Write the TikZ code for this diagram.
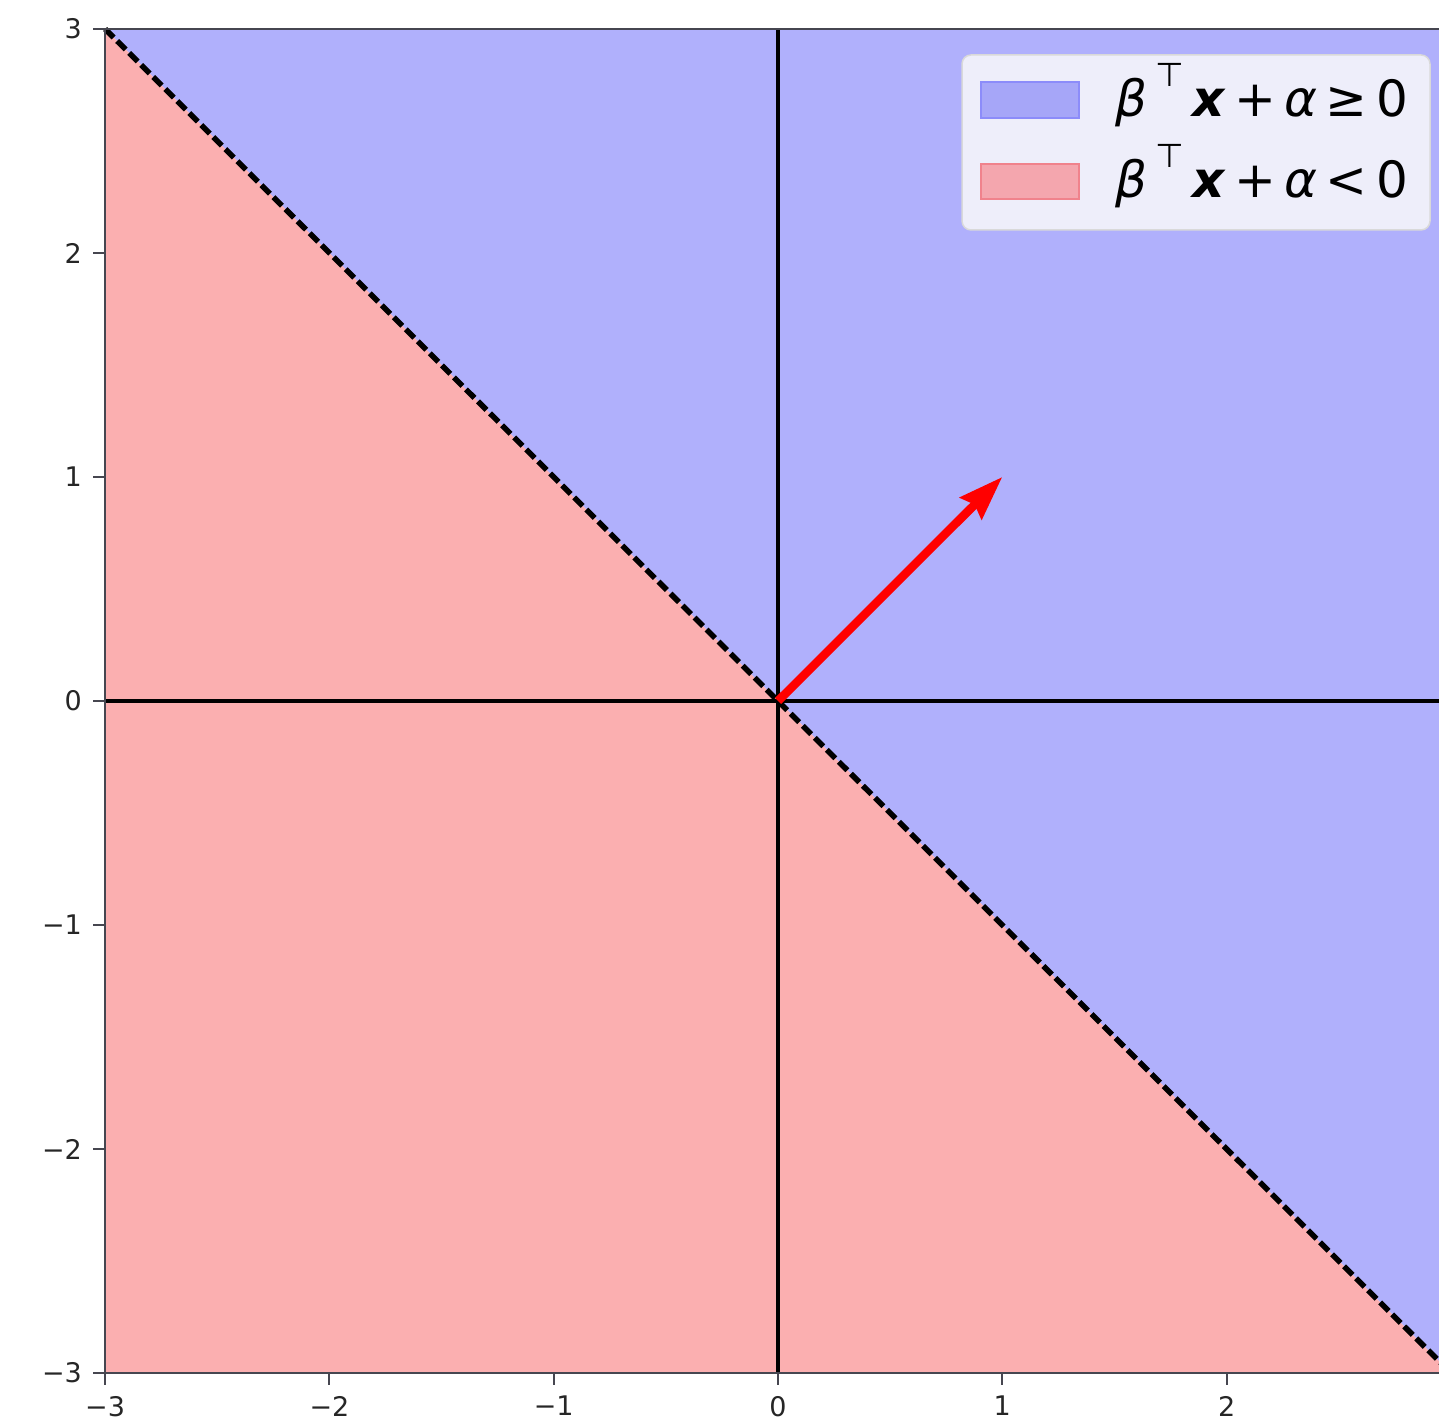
\documentclass[tikz,border=0pt]{standalone}
\usepackage{fontspec}
\newfontfamily\dv{DejaVu Sans}
\usetikzlibrary{arrows.meta}
\definecolor{posblue}{RGB}{176,176,252}
\definecolor{negred}{RGB}{251,175,176}
\definecolor{legbg}{RGB}{238,238,250}
\definecolor{legblue}{RGB}{166,166,248}
\definecolor{legbluedraw}{RGB}{140,140,250}
\definecolor{legred}{RGB}{244,166,174}
\definecolor{legreddraw}{RGB}{240,130,140}
\definecolor{spinecol}{RGB}{70,70,80}
\tikzset{
  ticklab/.style={font=\dv\fontsize{27}{30}\selectfont, inner sep=0pt, text=black!85},
  legtext/.style={font=\dv\fontsize{50}{58}\selectfont, inner sep=0pt, anchor=base west},
  spineline/.style={draw=spinecol, line width=2.5pt},
  tickmark/.style={draw=spinecol, line width=2pt},
  axisline/.style={draw=black, line width=4.5pt},
  boundary/.style={draw=black, line width=5.5pt, dash pattern=on 12pt off 5pt},
  normalarrow/.style={draw=red, line width=8.5pt, -{Stealth[length=44pt, width=30pt, inset=5pt]}},
  legbox/.style={fill=legbg, draw=black!15, line width=1.5pt, rounded corners=9pt},
}
\begin{document}
\begin{tikzpicture}[x=1pt,y=1pt]
\useasboundingbox (0,0) rectangle (1439,1426);
\fill[white] (0,0) rectangle (1439,1426);
\begin{scope}
\clip (0,0) rectangle (1439,1426);
\begin{scope}[shift={(778,725)}, x=224.3pt, y=224pt]
  % regions
  \fill[posblue] (-3,3) -- (3,3) -- (3,-3) -- cycle;
  \fill[negred] (-3,3) -- (3,-3) -- (-3,-3) -- cycle;
  % axes through origin
  \coordinate (xl) at (-3,0);
  \coordinate (xr) at (3,0);
  \coordinate (yb) at (0,-3);
  \coordinate (yt) at (0,3);
  \draw[axisline] (xl) -- (xr);
  \draw[axisline] (yb) -- (yt);
  % decision boundary
  \coordinate (bl) at (-3,3);
  \coordinate (br) at (3,-3);
  \draw[boundary] (bl) -- (br);
  % spines
  \coordinate (c1) at (-3,-3);
  \coordinate (c2) at (-3,3);
  \coordinate (c3) at (3,3);
  \coordinate (c4) at (3,-3);
  \draw[spineline] (c1) -- (c2) -- (c3);
  \draw[spineline] (c1) -- (c4);
  % ticks and labels
  \foreach \v/\t in {-3/−3,-2/−2,-1/−1,0/0,1/1,2/2,3/3} {
    \draw[tickmark] (-3,\v) -- ++(-12pt,0);
    \node[ticklab, anchor=east] (ylab\v) at ([xshift=-23pt]-3,\v) {\t};
  }
  \foreach \v/\t in {-3/−3,-2/−2,-1/−1,0/0,1/1,2/2} {
    \draw[tickmark] (\v,-3) -- ++(0,-12pt);
    \node[ticklab, anchor=north] (xlab\v) at ([yshift=-23pt]\v,-3) {\t};
  }
  % normal vector
  \coordinate (O) at (0,0);
  \coordinate (B) at (1,1);
  \draw[normalarrow] (O) -- (B);
\end{scope}
% legend
\draw[legbox] (962,1196) rectangle (1430,1371);
\node[fill=legblue, draw=legbluedraw, line width=1.2pt, minimum width=98pt, minimum height=36pt, inner sep=0pt] (patchpos) at (1030,1326) {};
\node[fill=legred, draw=legreddraw, line width=1.2pt, minimum width=98pt, minimum height=35pt, inner sep=0pt] (patchneg) at (1030,1244.5) {};
\node[legtext] (labpos) at (1115,1309) {\textit{β}\,\raisebox{0.6em}{\fontsize{33}{35}\selectfont ⊤}\,\textbf{\textit{x}}\,+\,\textit{α}\,≥\,0};
\node[legtext] (labneg) at (1115,1228) {\textit{β}\,\raisebox{0.6em}{\fontsize{33}{35}\selectfont ⊤}\,\textbf{\textit{x}}\,+\,\textit{α}\,<\,0};
\end{scope}
\end{tikzpicture}
\end{document}
